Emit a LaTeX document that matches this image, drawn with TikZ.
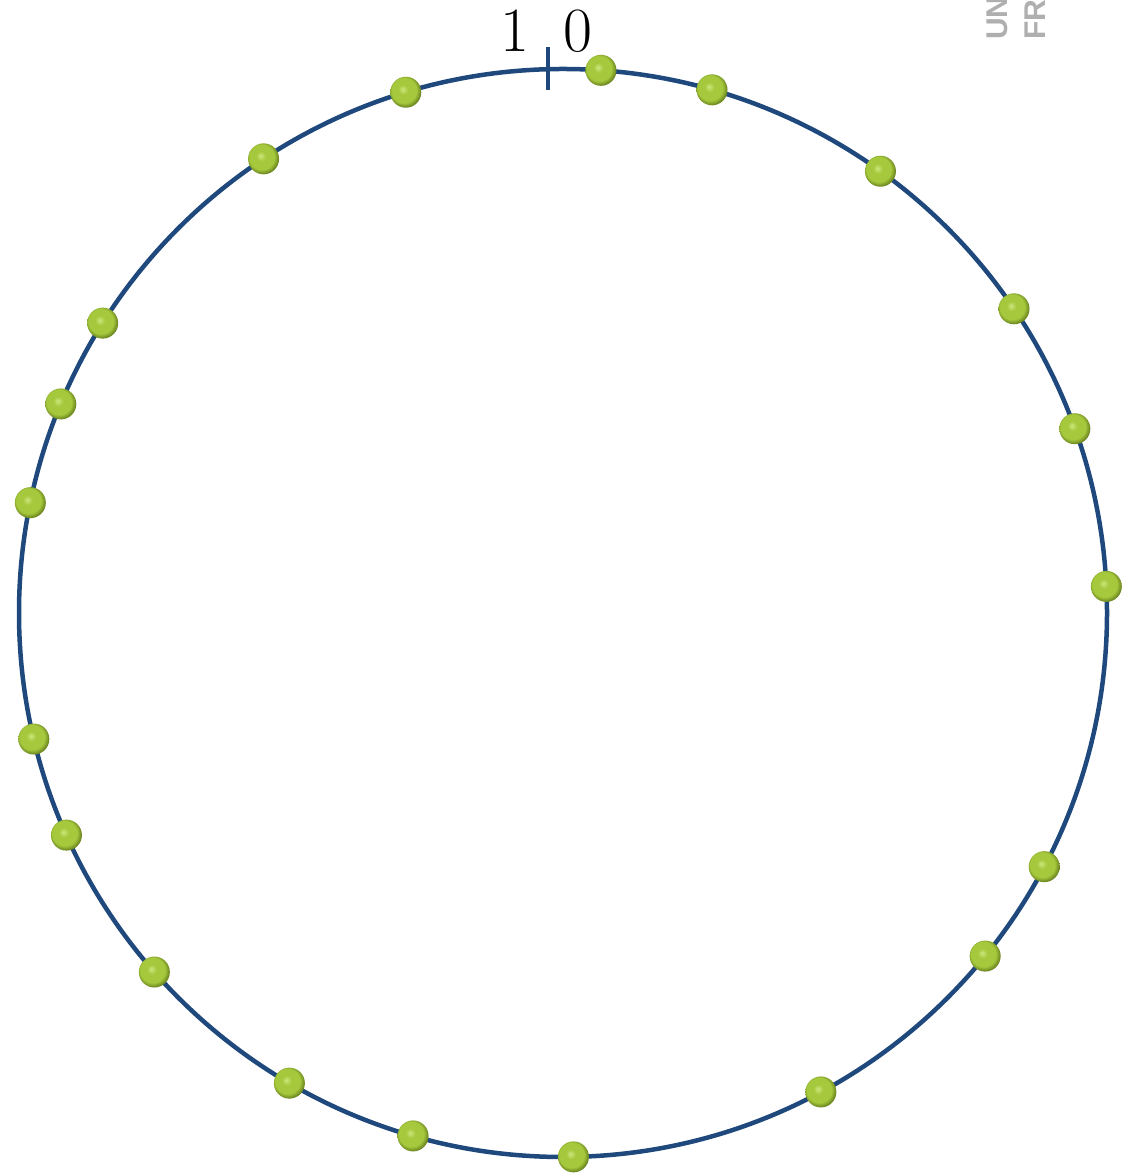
\documentclass[tikz,border=0pt]{standalone}
\usepackage{fontspec}
\usetikzlibrary{calc}
\newfontfamily\logofont{Liberation Sans}
\definecolor{ringblue}{RGB}{31,73,125}
\definecolor{ballhi}{RGB}{205,230,125}
\definecolor{ballmid}{RGB}{165,200,60}
\definecolor{balledge}{RGB}{105,130,30}
\definecolor{logogray}{RGB}{175,175,175}
\pgfdeclareradialshading{greenball}{\pgfpoint{-5bp}{5bp}}{color(0bp)=(ballhi); color(8bp)=(ballmid); color(20bp)=(ballmid); color(27bp)=(balledge); color(50bp)=(balledge)}
\begin{document}
\begin{tikzpicture}[x=1pt,y=1pt,
  ring/.style={draw=ringblue,line width=4.5pt},
  tickmark/.style={draw=ringblue,line width=4pt},
  ballnode/.style={circle,minimum size=31pt,inner sep=0pt,shading=greenball},
  digit/.style={font=\fontsize{63}{63}\selectfont,inner sep=0pt},
  logo/.style={text=logogray,rotate=90,anchor=base west,inner sep=0pt,font=\logofont\bfseries\fontsize{30}{30}\selectfont}]
\useasboundingbox (0,0) rectangle (1132,1173);
\clip (0,0) rectangle (1132,1173);
\coordinate (c) at (563,560);
\draw[ring] (c) circle (544);
\coordinate (t1) at (548,1126);
\coordinate (t2) at (548,1083);
\draw[tickmark] (t1) -- (t2);
\node[digit] (one) at (515,1142) {1};
\node[digit] (zero) at (578,1142) {0};
\node[logo] (uni) at (1007,1133) {UNI};
\node[logo] (fr) at (1045,1133) {FR};
\foreach \a [count=\i] in {86.0,74.1,54.3,34.0,19.8,2.8,-27.8,-39.1,-61.7,-88.9,-106.0,-120.2,221.3,204.1,193.4,168.3,157.4,147.8,123.4,106.8}
  \node[ballnode] (b\i) at ($(c)+(\a:544)$) {};
\end{tikzpicture}
\end{document}
